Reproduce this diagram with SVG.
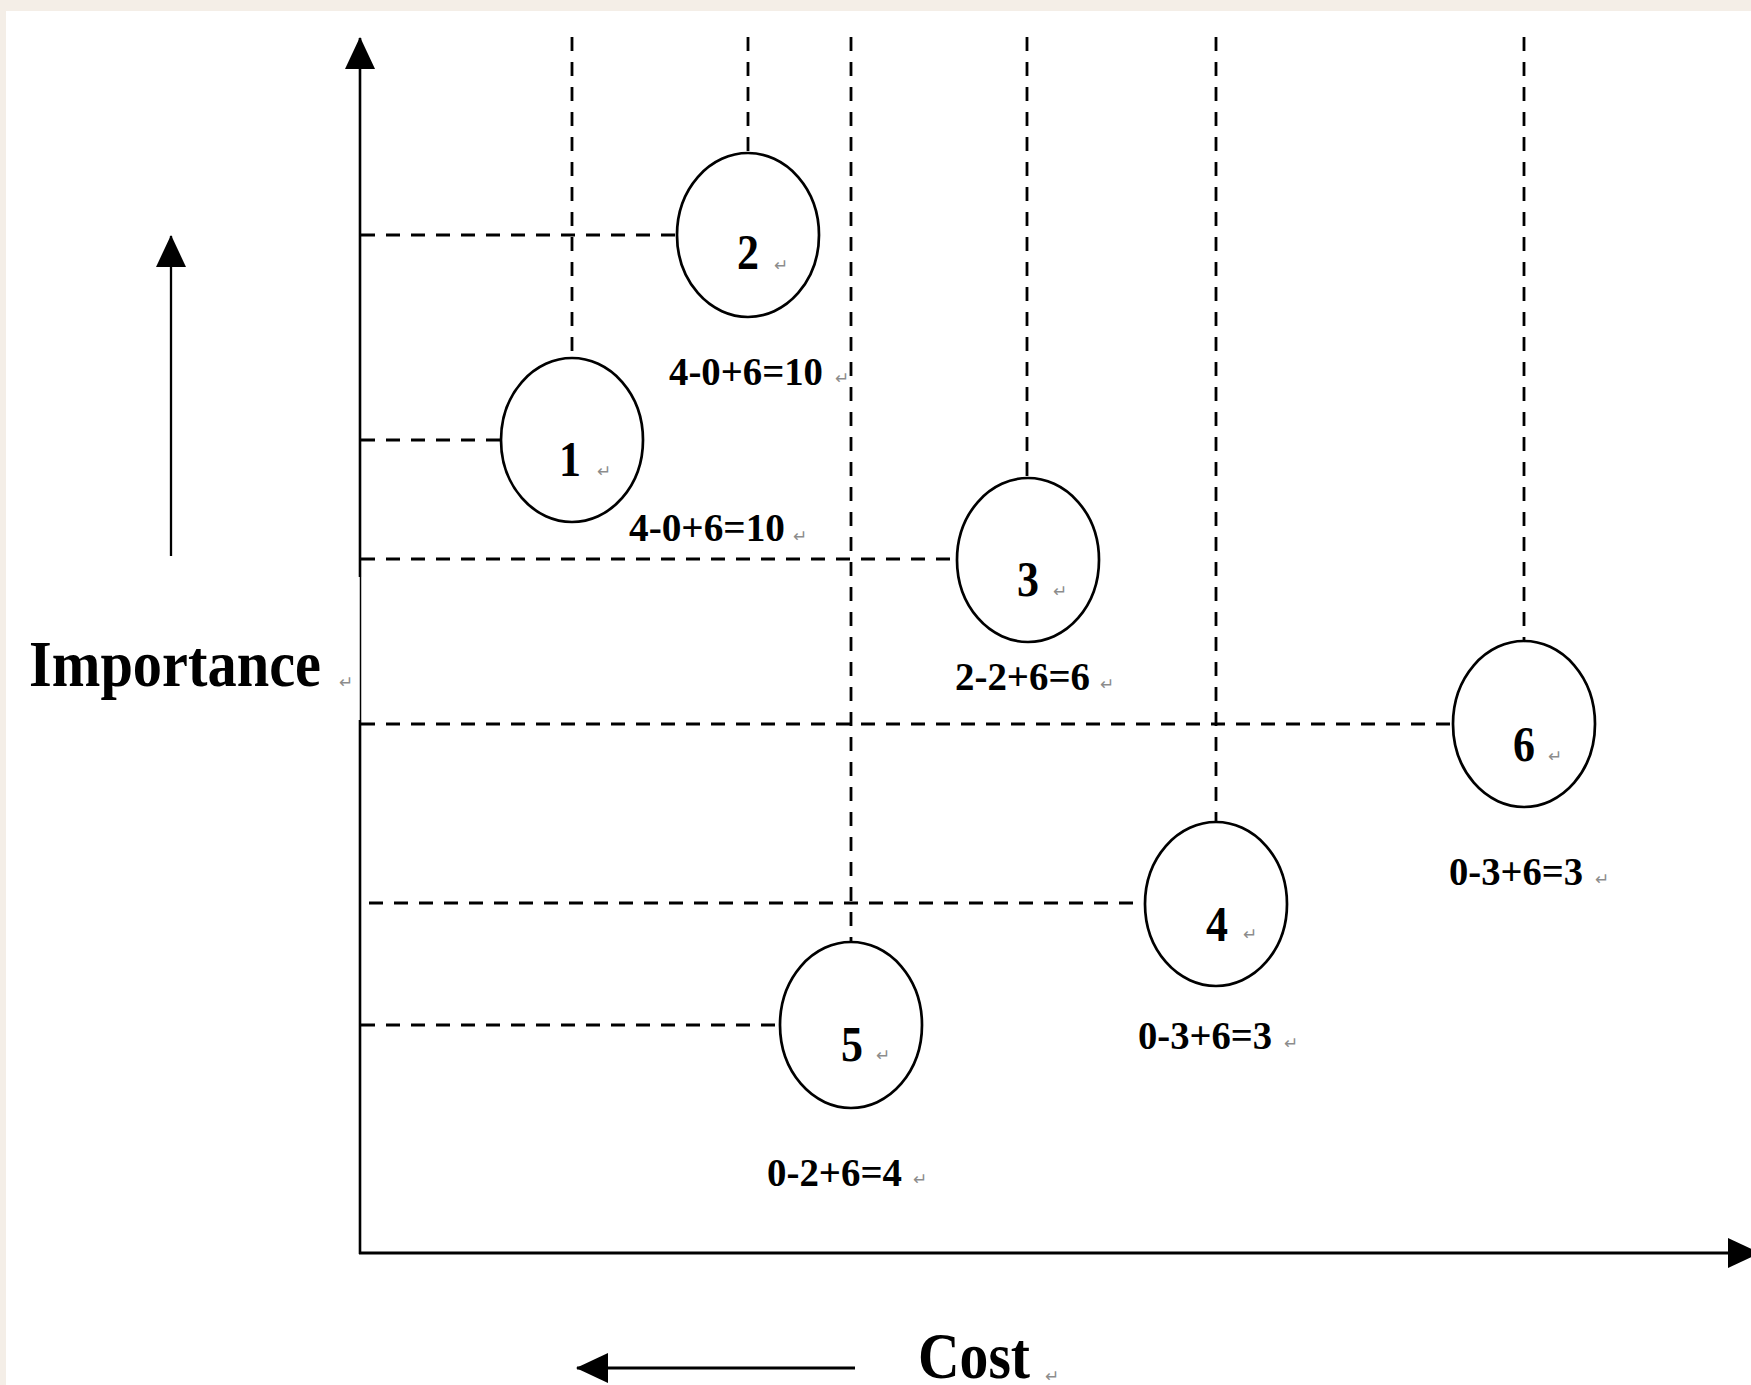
<svg xmlns="http://www.w3.org/2000/svg" width="1751" height="1385" viewBox="0 0 1751 1385">
<style>
.bg{fill:#f4eee7}
.paper{fill:#ffffff}
.axis{stroke:#000;fill:none}
.dash{stroke:#000;stroke-width:2.8;stroke-dasharray:14 11;fill:none}
.node ellipse{fill:#fff;stroke:#000;stroke-width:2.7}
.num{font-family:"Liberation Serif","Times New Roman",serif;font-weight:bold;font-size:51px;fill:#000;text-anchor:middle}
.lbl{font-family:"Liberation Serif","Times New Roman",serif;font-weight:bold;font-size:40px;fill:#000}
.big{font-family:"Liberation Serif","Times New Roman",serif;font-weight:bold;font-size:66px;fill:#000}
.ret{font-family:"DejaVu Sans",sans-serif;font-size:17px;fill:#8c8c8c}
</style>
<defs>
<marker id="ah" viewBox="0 0 32 30" refX="31" refY="15" markerWidth="32" markerHeight="30" markerUnits="userSpaceOnUse" orient="auto">
<path d="M0,0 L32,15 L0,30 Z" fill="#000"/>
</marker>
</defs>
<rect class="bg" x="0" y="0" width="1751" height="1385"/>
<rect class="paper" x="6" y="11" width="1745" height="1374"/>

<g id="connectors">
<line class="dash" x1="572" y1="37" x2="572" y2="358"/>
<line class="dash" x1="748" y1="37" x2="748" y2="153"/>
<line class="dash" x1="851" y1="37" x2="851" y2="942"/>
<line class="dash" x1="1027" y1="37" x2="1027" y2="478"/>
<line class="dash" x1="1216" y1="37" x2="1216" y2="821"/>
<line class="dash" x1="1524" y1="37" x2="1524" y2="642"/>
<line class="dash" x1="361" y1="235" x2="678" y2="235"/>
<line class="dash" x1="361" y1="440" x2="501" y2="440"/>
<line class="dash" x1="361" y1="559" x2="958" y2="559"/>
<line class="dash" x1="361" y1="724" x2="1454" y2="724"/>
<line class="dash" x1="369" y1="903" x2="1146" y2="903"/>
<line class="dash" x1="361" y1="1025" x2="780" y2="1025"/>
</g>

<g id="axes">
<line class="axis" stroke-width="2.6" x1="360" y1="577" x2="360" y2="38" marker-end="url(#ah)"/>
<line class="axis" stroke-width="1.5" x1="360.5" y1="577" x2="360.5" y2="720"/>
<line class="axis" stroke-width="2.6" x1="360" y1="720" x2="360" y2="1254"/>
<line class="axis" stroke-width="3.2" x1="359" y1="1253" x2="1759" y2="1253" marker-end="url(#ah)"/>
<line class="axis" stroke-width="2.3" x1="171" y1="556" x2="171" y2="236" marker-end="url(#ah)"/>
<line class="axis" stroke-width="3.2" x1="855" y1="1368" x2="577" y2="1368" marker-end="url(#ah)"/>
</g>

<g id="axis-labels">
<text class="big" x="29" y="686" textLength="292" lengthAdjust="spacingAndGlyphs">Importance</text>
<text class="ret" x="339" y="688">↵</text>
<text class="big" x="918" y="1378" textLength="112" lengthAdjust="spacingAndGlyphs">Cost</text>
<text class="ret" x="1045" y="1382">↵</text>
</g>

<g id="node1" class="node">
<ellipse cx="572" cy="440" rx="71" ry="82"/>
<text class="num" x="570" y="476" textLength="22" lengthAdjust="spacingAndGlyphs">1</text>
<text class="ret" x="597" y="477">↵</text>
<text class="lbl" x="629" y="541" textLength="156" lengthAdjust="spacingAndGlyphs">4-0+6=10</text>
<text class="ret" x="793" y="542">↵</text>
</g>

<g id="node2" class="node">
<ellipse cx="748" cy="235" rx="71" ry="82"/>
<text class="num" x="748" y="269" textLength="22" lengthAdjust="spacingAndGlyphs">2</text>
<text class="ret" x="774" y="271">↵</text>
<text class="lbl" x="669" y="385" textLength="154" lengthAdjust="spacingAndGlyphs">4-0+6=10</text>
<text class="ret" x="835" y="384">↵</text>
</g>

<g id="node3" class="node">
<ellipse cx="1028" cy="560" rx="71" ry="82"/>
<text class="num" x="1028" y="596" textLength="22" lengthAdjust="spacingAndGlyphs">3</text>
<text class="ret" x="1053" y="597">↵</text>
<text class="lbl" x="955" y="690" textLength="135" lengthAdjust="spacingAndGlyphs">2-2+6=6</text>
<text class="ret" x="1100" y="690">↵</text>
</g>

<g id="node4" class="node">
<ellipse cx="1216" cy="904" rx="71" ry="82"/>
<text class="num" x="1217" y="941" textLength="22" lengthAdjust="spacingAndGlyphs">4</text>
<text class="ret" x="1243" y="940">↵</text>
<text class="lbl" x="1138" y="1049" textLength="134" lengthAdjust="spacingAndGlyphs">0-3+6=3</text>
<text class="ret" x="1284" y="1049">↵</text>
</g>

<g id="node5" class="node">
<ellipse cx="851" cy="1025" rx="71" ry="83"/>
<text class="num" x="852" y="1061" textLength="22" lengthAdjust="spacingAndGlyphs">5</text>
<text class="ret" x="876" y="1061">↵</text>
<text class="lbl" x="767" y="1186" textLength="135" lengthAdjust="spacingAndGlyphs">0-2+6=4</text>
<text class="ret" x="913" y="1185">↵</text>
</g>

<g id="node6" class="node">
<ellipse cx="1524" cy="724" rx="71" ry="83"/>
<text class="num" x="1524" y="761" textLength="22" lengthAdjust="spacingAndGlyphs">6</text>
<text class="ret" x="1548" y="762">↵</text>
<text class="lbl" x="1449" y="885" textLength="134" lengthAdjust="spacingAndGlyphs">0-3+6=3</text>
<text class="ret" x="1595" y="885">↵</text>
</g>
</svg>
